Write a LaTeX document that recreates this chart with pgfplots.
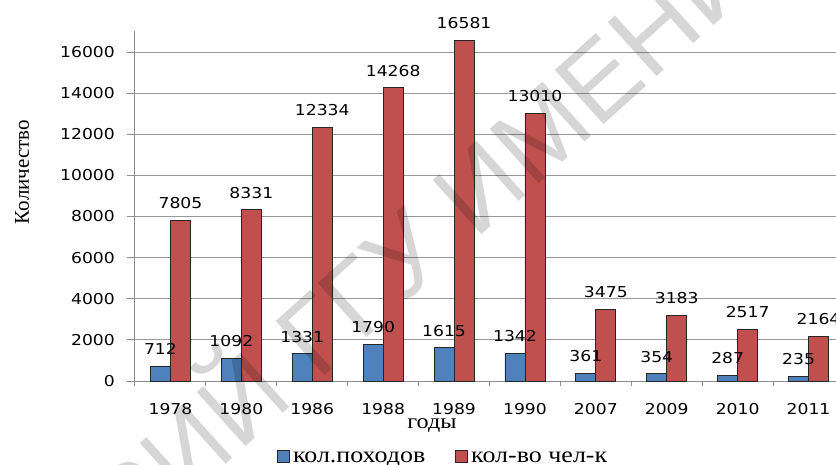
\documentclass[border=0pt]{standalone}
\usepackage{fontspec}
\setmainfont{Liberation Serif}[FakeStretch=1.15]
\newfontfamily\numfont{DejaVu Sans}[FakeStretch=1.145]
\newfontfamily\plainserif{Liberation Serif}
\newfontfamily\wmfont{Liberation Sans}
\usepackage{pgfplots}
\pgfplotsset{compat=1.18}
\definecolor{barblue}{RGB}{79,129,189}
\definecolor{barred}{RGB}{192,80,77}

\begin{document}
\begin{tikzpicture}[x=1pt,y=1pt]
\fill[white] (0,0) rectangle (836,464);
\useasboundingbox (0,0) rectangle (836,464);
\begin{scope}
\clip (0,0) rectangle (836,464);
\begin{axis}[
  at={(135pt,83pt)}, anchor=south west,
  scale only axis, width=709pt, height=349.56pt,
  xmin=-0.5, xmax=9.5, ymin=0, ymax=17000,
  ybar, bar width=20pt,
  axis lines*=left,
  axis line style={draw=black!45, line width=1pt},
  xtick={0,...,9},
  xticklabels={1978,1980,1986,1988,1989,1990,2007,2009,2010,2011},
  minor xtick={-0.5,0.5,...,9.5},
  ytick={0,2000,...,16000},
  scaled y ticks=false,
  tick align=outside,
  major tick length=8pt, minor tick length=5pt,
  major x tick style={draw=none},
  minor x tick style={draw=black!45, line width=1pt},
  ytick style={draw=black!45, line width=1pt},
  ymajorgrids, major grid style={draw=black!40, line width=1pt},
  /pgf/number format/assume math mode=true,
  /pgf/number format/1000 sep={},
  ticklabel style={font=\numfont\fontsize{15}{18}\selectfont, inner sep=0pt},
  yticklabel style={xshift=-12pt},
  xticklabel style={yshift=-14pt},
  nodes near coords,
  every node near coord/.append style={font=\numfont\fontsize{15}{18}\selectfont,
    inner sep=0pt, yshift=11pt, text=black},
  legend columns=2,
  legend style={at={(axis description cs:0.2003,-0.2174)}, anchor=west,
    draw=none, fill=none, inner sep=0pt, nodes={inner sep=0pt},
    font=\fontsize{22.6}{26}\selectfont,
    /tikz/every odd column/.append style={column sep=3pt},
    /tikz/every even column/.append style={column sep=30pt}},
  legend cell align=left,
]
% red first so the blue labels lie over the red bars
\addplot[forget plot, fill=barred, draw=black!85, line width=0.8pt, bar shift=10pt]
coordinates {(0,7805) (1,8331) (2,12334) (3,14268) (4,16581) (5,13010) (6,3475) (7,3183) (8,2517) (9,2164)};
\addplot[forget plot, fill=barblue, draw=black!85, line width=0.8pt, bar shift=-10pt]
coordinates {(0,712) (1,1092) (2,1331) (3,1790) (4,1615) (5,1342) (6,361) (7,354) (8,287) (9,235)};

\addlegendimage{legend image code/.code={\draw[fill=barblue,draw=black!85,line width=0.8pt] (0pt,-4pt) rectangle (12pt,8pt);}}
\addlegendentry{кол.походов}
\addlegendimage{legend image code/.code={\draw[fill=barred,draw=black!85,line width=0.8pt] (0pt,-4pt) rectangle (12pt,8pt);}}
\addlegendentry{кол-во чел-к}
\end{axis}

\node[rotate=90, font=\plainserif\fontsize{21}{24}\selectfont] at (22,292) {Количество};
\node[anchor=base, font=\fontsize{21}{24}\selectfont] at (432,36) {годы};

% watermark
\node[rotate=42, anchor=base west, inner sep=0pt, text=black, opacity=0.16,
  font=\wmfont\fontsize{106}{110}\selectfont] at (318,82) {ГГУ ИМЕНИ Ф. СКОРИНЫ};
\node[rotate=42, anchor=base east, inner sep=0pt, text=black, opacity=0.16,
  font=\wmfont\fontsize{106}{110}\selectfont] at (296,62) {РЕПОЗИТОРИЙ};
\end{scope}
\end{tikzpicture}
\end{document}
